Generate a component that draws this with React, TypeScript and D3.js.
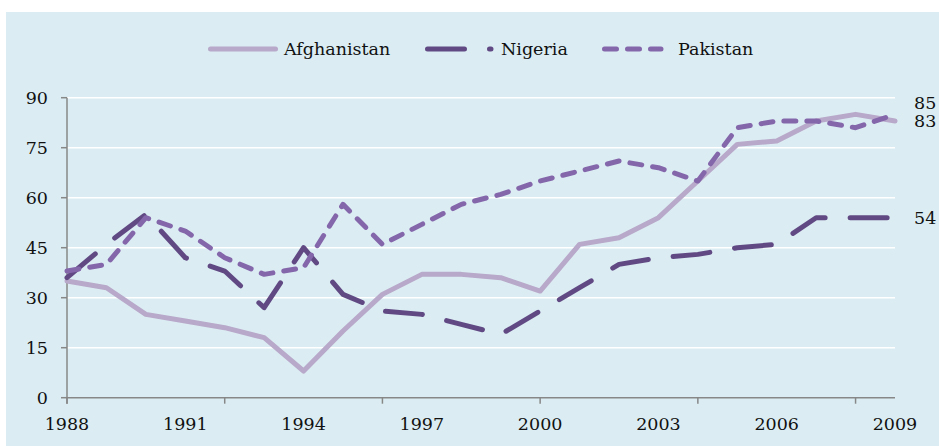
import * as d3 from "d3";

const years = d3.range(1988, 2010);
const afghanistan = [35, 33, 25, 23, 21, 18, 8, 20, 31, 37, 37, 36, 32, 46, 48, 54, 65, 76, 77, 83, 85, 83];
const nigeria = [36, 46, 55, 42, 38, 27, 45, 31, 26, 25, 22, 19, 26, 33, 40, 42, 43, 45, 46, 54, 54, 54];
const pakistan = [38, 40, 54, 50, 42, 37, 39, 58, 46, 52, 58, 61, 65, 68, 71, 69, 65, 81, 83, 83, 81, 85];
const yTickValues = [0, 15, 30, 45, 60, 75, 90];
const xLabelYears = [1988, 1991, 1994, 1997, 2000, 2003, 2006, 2009];
const xTickYears = [1988, 1992, 1996, 2000, 2004, 2008];

const W = 939;
const H = 446;
const FONT = "'DejaVu Serif', serif";
const FS = 17.5;

const series = [
  { name: "Afghanistan", values: afghanistan, color: "#b8a8c9", dash: "none" },
  { name: "Nigeria", values: nigeria, color: "#614a84", dash: "37 25" },
  { name: "Pakistan", values: pakistan, color: "#8466ab", dash: "12 11" },
];

export default function App() {
  const x = d3.scaleLinear().domain([1988, 2009]).range([67, 895]);
  const y = d3.scaleLinear().domain([0, 90]).range([397.7, 97.7]);
  const line = d3
    .line<number>()
    .x((_, i) => x(years[i]))
    .y((d) => y(d));

  // end labels, pushed apart when they overlap
  const ends = series
    .map((s) => {
      const v = s.values[s.values.length - 1];
      return { v, y: y(v) };
    })
    .sort((a, b) => b.y - a.y);
  for (let i = 1; i < ends.length; i++) {
    if (ends[i - 1].y - ends[i].y < 18.5) ends[i].y = ends[i - 1].y - 18.5;
  }

  const legend = [
    { s: series[0], x1: 210.5, x2: 275.5, tx: 284 },
    { s: series[1], x1: 427.5, x2: 491, tx: 501 },
    { s: series[2], x1: 604.5, x2: 661, tx: 678 },
  ];

  return (
    <svg
      width={W}
      height={H}
      style={{ position: "absolute", left: 0, top: 0, fontFamily: FONT }}
    >
      <rect x={0} y={0} width={W} height={H} fill="#ffffff" />
      <rect x={6} y={12} width={W - 6} height={H - 12} fill="#dbedf3" />

      {/* grid */}
      {yTickValues.slice(1).map((t) => (
        <line key={t} x1={x(1988)} x2={x(2009)} y1={y(t)} y2={y(t)} stroke="#ffffff" strokeWidth={1.6} />
      ))}

      {/* axes */}
      <line x1={x(1988)} x2={x(1988)} y1={y(90)} y2={y(0) + 6} stroke="#878787" strokeWidth={1.5} />
      <line x1={x(1988)} x2={x(2009)} y1={y(0)} y2={y(0)} stroke="#878787" strokeWidth={1.5} />
      {yTickValues.map((t) => (
        <g key={t}>
          <line x1={x(1988) - 6} x2={x(1988)} y1={y(t)} y2={y(t)} stroke="#878787" strokeWidth={1.5} />
          <text x={48} y={y(t)} dy="0.35em" textAnchor="end" fontSize={FS} fill="#111">
            {t}
          </text>
        </g>
      ))}
      {xTickYears.map((yr) => (
        <line key={yr} x1={x(yr)} x2={x(yr)} y1={y(0)} y2={y(0) + 6} stroke="#878787" strokeWidth={1.5} />
      ))}
      {xLabelYears.map((yr) => (
        <text key={yr} x={x(yr)} y={430} textAnchor="middle" fontSize={FS} fill="#111">
          {yr}
        </text>
      ))}

      {/* lines */}
      {series.map((s) => (
        <path
          key={s.name}
          d={line(s.values) ?? ""}
          fill="none"
          stroke={s.color}
          strokeWidth={5}
          strokeDasharray={s.dash}
          strokeLinecap="round"
          strokeLinejoin="round"
        />
      ))}

      {ends.map((e) => (
        <text key={e.v} x={914} y={e.y} dy="0.35em" fontSize={FS} fill="#111">
          {e.v}
        </text>
      ))}

      {/* legend */}
      {legend.map(({ s, x1, x2, tx }) => (
        <g key={s.name}>
          <line
            x1={x1}
            x2={x2}
            y1={49}
            y2={49}
            stroke={s.color}
            strokeWidth={5}
            strokeDasharray={s.dash}
            strokeLinecap="round"
          />
          <text x={tx} y={49} dy="0.35em" fontSize={FS} fill="#111">
            {s.name}
          </text>
        </g>
      ))}
    </svg>
  );
}
